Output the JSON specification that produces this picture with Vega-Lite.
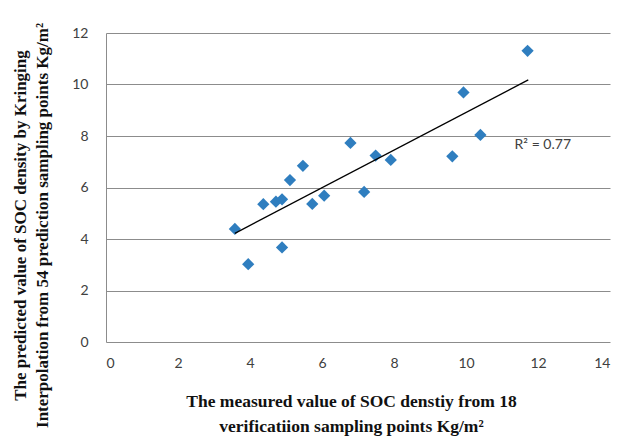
{
  "$schema": "https://vega.github.io/schema/vega-lite/v6.json",
  "width": 504,
  "height": 309,
  "autosize": "none",
  "padding": {"left": 106, "top": 33, "right": 7, "bottom": 99},
  "background": "white",
  "config": {"view": {"stroke": null}},
  "datasets": {
    "points": [
      {"measured": 3.58, "predicted": 4.39},
      {"measured": 3.95, "predicted": 3.02},
      {"measured": 4.37, "predicted": 5.35},
      {"measured": 4.72, "predicted": 5.45},
      {"measured": 4.89, "predicted": 5.54},
      {"measured": 4.89, "predicted": 3.67},
      {"measured": 5.11, "predicted": 6.29},
      {"measured": 5.47, "predicted": 6.84},
      {"measured": 5.73, "predicted": 5.36},
      {"measured": 6.06, "predicted": 5.68},
      {"measured": 6.79, "predicted": 7.73},
      {"measured": 7.17, "predicted": 5.83},
      {"measured": 7.49, "predicted": 7.24},
      {"measured": 7.91, "predicted": 7.07},
      {"measured": 9.62, "predicted": 7.21},
      {"measured": 9.93, "predicted": 9.69},
      {"measured": 10.40, "predicted": 8.04},
      {"measured": 11.71, "predicted": 11.31}
    ],
    "trend": [
      {"measured": 3.58, "predicted": 4.22},
      {"measured": 11.73, "predicted": 10.18}
    ],
    "label": [
      {"measured": 11.35, "predicted": 7.65, "text": "R² = 0.77"}
    ]
  },
  "layer": [
    {
      "data": {"name": "points"},
      "mark": {"type": "point", "shape": "diamond", "filled": true, "size": 150, "color": "#2f7ebf", "opacity": 1},
      "encoding": {
        "x": {
          "field": "measured", "type": "quantitative",
          "scale": {"domain": [0, 14], "nice": false},
          "axis": {
            "values": [0, 2, 4, 6, 8, 10, 12, 14],
            "grid": false, "ticks": false, "domain": false,
            "labelPadding": 14, "labelFont": "Lato", "labelFontSize": 14, "labelColor": "#404040",
            "title": ["The measured value of SOC denstiy from 18", "verificatiion sampling points Kg/m²"],
            "titleFont": "Liberation Serif", "titleFontSize": 17.5, "titleFontWeight": "bold", "titleColor": "#111111",
            "titlePadding": 22, "titleLineHeight": 25, "titleX": 245
          }
        },
        "y": {
          "field": "predicted", "type": "quantitative",
          "scale": {"domain": [0, 12], "nice": false},
          "axis": {
            "values": [0, 2, 4, 6, 8, 10, 12],
            "grid": true, "gridColor": "#8c8c8c", "gridWidth": 1,
            "ticks": false, "domain": true, "domainColor": "#8c8c8c", "domainWidth": 1,
            "labelPadding": 18, "labelFont": "Lato", "labelFontSize": 14, "labelColor": "#404040",
            "title": ["The predicted value of SOC density  by Kringing", "Interpolation from 54 prediction sampling points Kg/m²"],
            "titleFont": "Liberation Serif", "titleFontSize": 17, "titleFontWeight": "bold", "titleColor": "#111111",
            "titleX": -77, "titleY": 192, "titleLineHeight": 22
          }
        }
      }
    },
    {
      "data": {"name": "trend"},
      "mark": {"type": "line", "color": "#000000", "strokeWidth": 1.3},
      "encoding": {
        "x": {"field": "measured", "type": "quantitative"},
        "y": {"field": "predicted", "type": "quantitative"}
      }
    },
    {
      "data": {"name": "label"},
      "mark": {"type": "text", "align": "left", "baseline": "middle", "font": "Lato", "fontSize": 14, "color": "#404040"},
      "encoding": {
        "x": {"field": "measured", "type": "quantitative"},
        "y": {"field": "predicted", "type": "quantitative"},
        "text": {"field": "text"}
      }
    }
  ]
}
